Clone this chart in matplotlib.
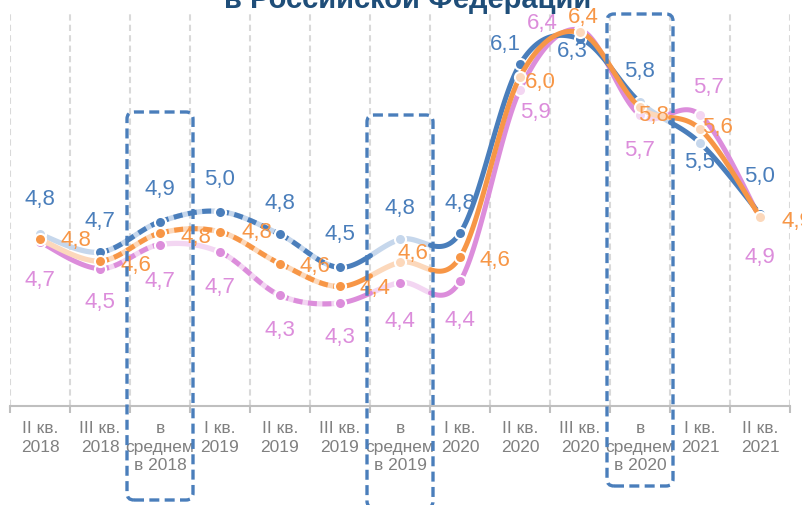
import numpy as np
import matplotlib
matplotlib.use('Agg')
import matplotlib.pyplot as plt
from matplotlib.patches import FancyBboxPatch
from matplotlib.transforms import IdentityTransform


# Подписи категорий
categories = [
    'II кв.\n2018', 'III кв.\n2018', 'в\nсреднем\nв 2018',
    'I кв.\n2019', 'II кв.\n2019', 'III кв.\n2019', 'в\nсреднем\nв 2019',
    'I кв.\n2020', 'II кв.\n2020', 'III кв.\n2020', 'в\nсреднем\nв 2020',
    'I кв.\n2021', 'II кв.\n2021',
]

# Значения рядов (оценка по картинке)
blue_values = [4.80, 4.66, 4.90, 4.98, 4.80, 4.54, 4.76, 4.81, 6.14, 6.34, 5.84, 5.52, 4.96]
orange_values = [4.76, 4.59, 4.81, 4.82, 4.57, 4.39, 4.58, 4.62, 6.04, 6.39, 5.80, 5.63, 4.94]
purple_values = [4.74, 4.53, 4.72, 4.66, 4.32, 4.26, 4.42, 4.43, 5.94, 6.41, 5.74, 5.74, 4.93]

# Оформление
W, H = 803, 505
BLUE, BLUE_L = '#4a7ebb', '#c6d7ec'
ORANGE, ORANGE_L = '#f79646', '#fcd8bb'
PURPLE, PURPLE_L = '#dc8ddb', '#f3d6f2'

series = [
    # значения, цвет, светлый цвет, стили отрезков, маркеры, смещения подписей, z
    (purple_values, PURPLE, PURPLE_L,
     ['S', 'D', 'L', 'D', 'D', 'SL', 'LS', 'S', 'S', 'S', 'LS', 'S'],
     'ddddddddldlld',
     [(0, -38), (0, -34), (0, -37), (0, -35), (0, -35), (0, -35), (0, -39),
      (0, -39), (15, -23), (-38, 6), (0, -35), (9, 28), (0, -40)], 2),
    (blue_values, BLUE, BLUE_L,
     ['L', 'D', 'D', 'D', 'D', 'SL', 'LS', 'S', 'S', 'S', 'LS', 'S'],
     'ldddddldddlld',
     [(0, 35), (0, 31), (0, 32), (0, 32), (0, 31), (0, 33), (0, 31),
      (0, 30), (-15, 20), (-8, -13), (0, 31), (0, -20), (0, 38)], 3),
    (orange_values, ORANGE, ORANGE_L,
     ['L', 'D', 'D', 'D', 'D', 'SL', 'LS', 'S', 'S', 'S', 'LS', 'S'],
     'ddddddldllllld'[:13],
     [(36, -1), (36, -4), (36, -4), (37, -1), (35, -3), (35, -2), (13, 9),
      (35, -3), (20, -6), (3, 15), (14, -8), (18, 1), (37, -5)], 4),
]

# Рамки "в среднем": индекс категории, верх и низ в пикселях
boxes = [(2, 112, 500), (6, 115, 508), (10, 14, 486)]


# Гладкая кривая как в Excel (Безье по соседним точкам)
def bezier_segment(xs, ys, i, n=60):
    p = np.column_stack([xs, ys]).astype(float)
    p0, p3 = p[i], p[i + 1]
    pm = p[i - 1] if i > 0 else p0
    pp = p[i + 2] if i + 2 < len(p) else p3
    c1 = p0 + (p3 - pm) / 6
    c2 = p3 - (pp - p0) / 6
    t = np.linspace(0, 1, n)[:, None]
    pts = (1 - t) ** 3 * p0 + 3 * (1 - t) ** 2 * t * c1 + 3 * (1 - t) * t ** 2 * c2 + t ** 3 * p3
    return pts[:, 0], pts[:, 1]


def draw_piece(ax, x, y, kind, dark, light, z):
    if kind in ('L', 'D'):
        ax.plot(x, y, color=light, lw=3.8, solid_capstyle='round', zorder=z)
    if kind == 'S':
        ax.plot(x, y, color=dark, lw=3.6, solid_capstyle='round', zorder=z + 0.1)
    if kind == 'D':
        ax.plot(x, y, color=dark, lw=3.6, linestyle=(0, (1.8, 1.1)),
                dash_capstyle='butt', zorder=z + 0.1)


plt.rcParams['font.family'] = ['Liberation Sans', 'DejaVu Sans']

fig = plt.figure(figsize=(W / 100, H / 100), dpi=100)
ax = fig.add_axes([10 / W, 1 - 406 / H, 780 / W, 394 / H])

ax.set_xlim(-0.5, len(categories) - 0.5)
ax.set_ylim(3.449, 6.551)

xs = np.arange(len(categories))

for values, dark, light, segs, marks, offsets, z in series:
    for i, kind in enumerate(segs):
        bx, by = bezier_segment(xs, values, i)
        if len(kind) == 2:
            h = len(bx) // 2
            draw_piece(ax, bx[:h + 1], by[:h + 1], kind[0], dark, light, z)
            draw_piece(ax, bx[h:], by[h:], kind[1], dark, light, z)
        else:
            draw_piece(ax, bx, by, kind, dark, light, z)

    for i, v in enumerate(values):
        ax.plot(xs[i], v, 'o', ms=8, mfc=dark if marks[i] == 'd' else light,
                mec='white', mew=1.5, zorder=z + 0.2)
        ax.annotate(f'{v:.1f}'.replace('.', ','), (xs[i], v),
                    xytext=offsets[i], textcoords='offset pixels',
                    ha='center', va='center', fontsize=16, color=dark,
                    zorder=6)

# Оси и сетка
for s in ['top', 'left', 'right']:
    ax.spines[s].set_visible(False)
ax.spines['bottom'].set_color('#bfbfbf')
ax.spines['bottom'].set_linewidth(1.5)
ax.set_yticks([])

ax.set_xticks(xs)
ax.set_xticklabels(categories, color='#808080', fontsize=12.5, linespacing=1.3)
ax.set_xticks(np.arange(-0.5, len(categories), 1), minor=True)
ax.tick_params(axis='x', which='major', length=0, pad=11)
ax.tick_params(axis='x', which='minor', length=5, width=1.5, color='#bfbfbf')
ax.grid(which='minor', axis='x', color='#d9d9d9', linestyle=(0, (3, 2)), lw=1.5)
ax.set_axisbelow(True)

# Рамки вокруг средних значений
fig.canvas.draw()
for idx, top, bottom in boxes:
    xl = ax.transData.transform((idx - 0.55, 0))[0]
    xr = ax.transData.transform((idx + 0.55, 0))[0]
    box = FancyBboxPatch((xl, H - bottom), xr - xl, bottom - top,
                         boxstyle='round,pad=0,rounding_size=7',
                         transform=IdentityTransform(), fill=False,
                         edgecolor=BLUE, lw=2.4, linestyle=(0, (3, 1.6)),
                         clip_on=False, zorder=10)
    fig.add_artist(box)

# Заголовок (обрезан сверху)
fig.text(408 / W, 1 - 8 / H, 'в Российской Федерации', ha='center',
         va='baseline', fontsize=21, fontweight='bold', color='#1f4e79')

fig.savefig('out.png', dpi=100)
